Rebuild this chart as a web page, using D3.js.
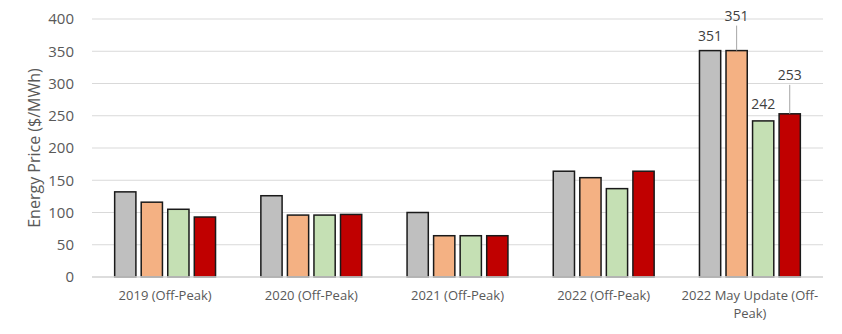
<!DOCTYPE html>
<html><head><meta charset="utf-8">
<script src="https://cdn.jsdelivr.net/npm/d3@7"></script>
<style>body{margin:0;background:#fff;} text{font-family:"Open Sans",sans-serif;}</style>
</head><body>
<svg id="c" width="842" height="334"></svg>
<script>
const categories = ["2019 (Off-Peak)", "2020 (Off-Peak)", "2021 (Off-Peak)", "2022 (Off-Peak)", "2022 May Update (Off-Peak)"];
const categoryLines = [["2019 (Off-Peak)"], ["2020 (Off-Peak)"], ["2021 (Off-Peak)"], ["2022 (Off-Peak)"], ["2022 May Update (Off-", "Peak)"]];
const seriesNames = ["A", "B", "C", "D"];
const seriesColors = ["#BFBFBF", "#F4B183", "#C5E0B4", "#C00000"];
const seriesA = [132, 126, 100, 164, 351];
const seriesB = [116, 96, 64, 154, 351];
const seriesC = [105, 96, 64, 137, 242];
const seriesD = [93, 97, 64, 164, 253];
const yTicks = [0, 50, 100, 150, 200, 250, 300, 350, 400];
const yLabel = "Energy Price ($/MWh)";

const series = [seriesA, seriesB, seriesC, seriesD];
const svg = d3.select("#c");
const m = {l: 92, r: 19, t: 19, b: 57};
const W = 842, H = 334;
const x0 = d3.scaleBand().domain(categories).range([m.l, W - m.r]).paddingInner(0.31).paddingOuter(0.155);
const x1 = d3.scaleBand().domain(seriesNames).range([0, x0.bandwidth()]).paddingInner(0.2).paddingOuter(0);
const y = d3.scaleLinear().domain([0, 400]).range([H - m.b, m.t]);

// gridlines
svg.append("g").selectAll("line").data(yTicks).join("line")
  .attr("x1", m.l).attr("x2", W - m.r)
  .attr("y1", d => y(d)).attr("y2", d => y(d))
  .attr("stroke", "#D9D9D9").attr("stroke-width", 1);

// y axis labels
const yAxis = d3.axisLeft(y).tickValues(yTicks).tickSize(0).tickPadding(18);
const ga = svg.append("g").attr("transform", `translate(${m.l},0)`).call(yAxis);
ga.select(".domain").remove();
ga.selectAll("text").attr("fill", "#595959").style("font-size", "15px").style("font-family", "'Open Sans',sans-serif");

svg.append("text").attr("transform", `translate(40,${(y(0)+y(400))/2}) rotate(-90)`)
  .attr("text-anchor", "middle").attr("fill", "#595959").style("font-size", "16px").text(yLabel);

// bars
const rows = categories.map((c, i) => ({c, vals: series.map((s, j) => ({k: seriesNames[j], v: s[i], j}))}));
const g = svg.append("g").selectAll("g").data(rows).join("g").attr("transform", d => `translate(${x0(d.c)},0)`);
g.selectAll("rect").data(d => d.vals).join("rect")
  .attr("x", d => x1(d.k)).attr("width", x1.bandwidth())
  .attr("y", d => y(d.v)).attr("height", d => y(0) - y(d.v))
  .attr("fill", d => seriesColors[d.j]).attr("stroke", "#1a1a1a").attr("stroke-width", 1.5);

// baseline
svg.append("line").attr("x1", m.l).attr("x2", W - m.r).attr("y1", y(0)).attr("y2", y(0)).attr("stroke", "#D9D9D9").attr("stroke-width", 1.5);

// data labels for last group
const last = categories.length - 1;
const labelOffsets = [{dy: 10, line: false}, {dy: 30, line: true}, {dy: 12, line: false}, {dy: 34, line: true}];
series.forEach((s, j) => {
  const cx = x0(categories[last]) + x1(seriesNames[j]) + x1.bandwidth() / 2;
  const v = s[last];
  const off = labelOffsets[j];
  const ty = y(v) - off.dy;
  if (off.line) {
    svg.append("line").attr("x1", cx).attr("x2", cx).attr("y1", ty + 5).attr("y2", y(v))
      .attr("stroke", "#A6A6A6").attr("stroke-width", 1);
  }
  svg.append("text").attr("x", cx).attr("y", ty).attr("text-anchor", "middle")
    .attr("fill", "#404040").style("font-size", "14px").text(v);
});

// x labels
const xl = svg.append("g").selectAll("text").data(categories).join("text")
  .attr("x", d => x0(d) + x0.bandwidth() / 2).attr("y", 300)
  .attr("text-anchor", "middle").attr("fill", "#595959").style("font-size", "13px");
xl.each(function(d, i) {
  const t = d3.select(this);
  categoryLines[i].forEach((ln, k) => {
    t.append("tspan").attr("x", x0(d) + x0.bandwidth() / 2).attr("dy", k === 0 ? 0 : 18).text(ln);
  });
});
</script>
</body></html>
